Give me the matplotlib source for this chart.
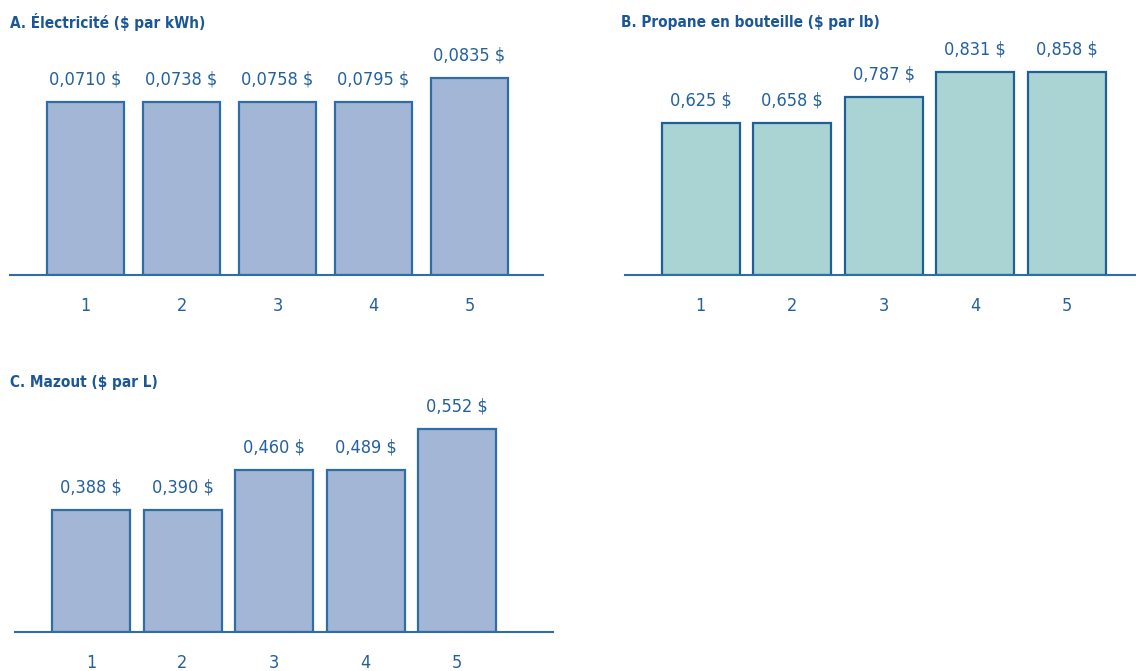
import matplotlib.pyplot as plt

plt.rcParams['font.family'] = ['DejaVu Sans']
plt.rcParams['font.stretch'] = 'condensed'

# Data
categories = ['1', '2', '3', '4', '5']

elec_labels = ['0,0710 $', '0,0738 $', '0,0758 $', '0,0795 $', '0,0835 $']
elec_heights = [0.0733, 0.0733, 0.0733, 0.0733, 0.0835]   # heights as drawn

prop_labels = ['0,625 $', '0,658 $', '0,787 $', '0,831 $', '0,858 $']
prop_heights = [0.642, 0.642, 0.752, 0.858, 0.858]

maz_labels = ['0,388 $', '0,390 $', '0,460 $', '0,489 $', '0,552 $']
maz_heights = [0.332, 0.332, 0.440, 0.440, 0.552]

TXT = '#23609f'
TITLE = '#1b5797'
EDGE = '#2e6da6'
FILL_BLUE = '#a4b6d6'
FILL_TEAL = '#a9d4d3'

W, H = 1136, 671
fig = plt.figure(figsize=(W / 100, H / 100), dpi=100)

# pixel height of the tallest bar in each panel
tall = {'A': 197, 'B': 203, 'C': 203}


def panel(title, heights, labels, left, right, base, top_px, c0, c4, width_px,
          fill, edge, title_x, title_y):
    ax = fig.add_axes([left / W, (H - base) / H, (right - left) / W, top_px / H])
    sp = (c4 - c0) / 4
    x0 = -(c0 - left) / sp
    ax.set_xlim(x0, x0 + (right - left) / sp)
    hmax = max(heights)
    ax.set_ylim(0, hmax * top_px / tall[title[0]])
    xs = range(len(categories))
    bars = ax.bar(xs, heights, width=width_px / sp, color=fill, edgecolor=edge,
                  linewidth=1.6)
    for b, lab in zip(bars, labels):
        ax.annotate(lab, (b.get_x() + b.get_width() / 2, b.get_height()),
                    xytext=(0, 10), textcoords='offset points', ha='center',
                    va='bottom', fontsize=13, color=TXT)
    for s in ['top', 'right', 'left']:
        ax.spines[s].set_visible(False)
    ax.spines['bottom'].set_color(EDGE)
    ax.spines['bottom'].set_linewidth(1.5)
    ax.set_yticks([])
    ax.set_xticks(list(xs))
    ax.set_xticklabels(categories, fontsize=13, color=TXT)
    ax.tick_params(axis='x', length=0, pad=16)
    fig.text(title_x / W, 1 - title_y / H, title,
             fontsize=11, fontweight='bold', color=TITLE, va='center', ha='left')
    return ax


panel('A. Électricité ($ par kWh)', elec_heights, elec_labels,
      10, 543, 275, 240, 85.5, 469.5, 77, FILL_BLUE, EDGE, 10, 22)
panel('B. Propane en bouteille ($ par lb)', prop_heights, prop_labels,
      625, 1136, 275, 240, 700.5, 1067, 78, FILL_TEAL, '#1f5f99', 621, 22)
panel('C. Mazout ($ par L)', maz_heights, maz_labels,
      15, 553, 632, 240, 91, 457, 78, FILL_BLUE, EDGE, 10, 383)

fig.savefig('out.png', dpi=100)
